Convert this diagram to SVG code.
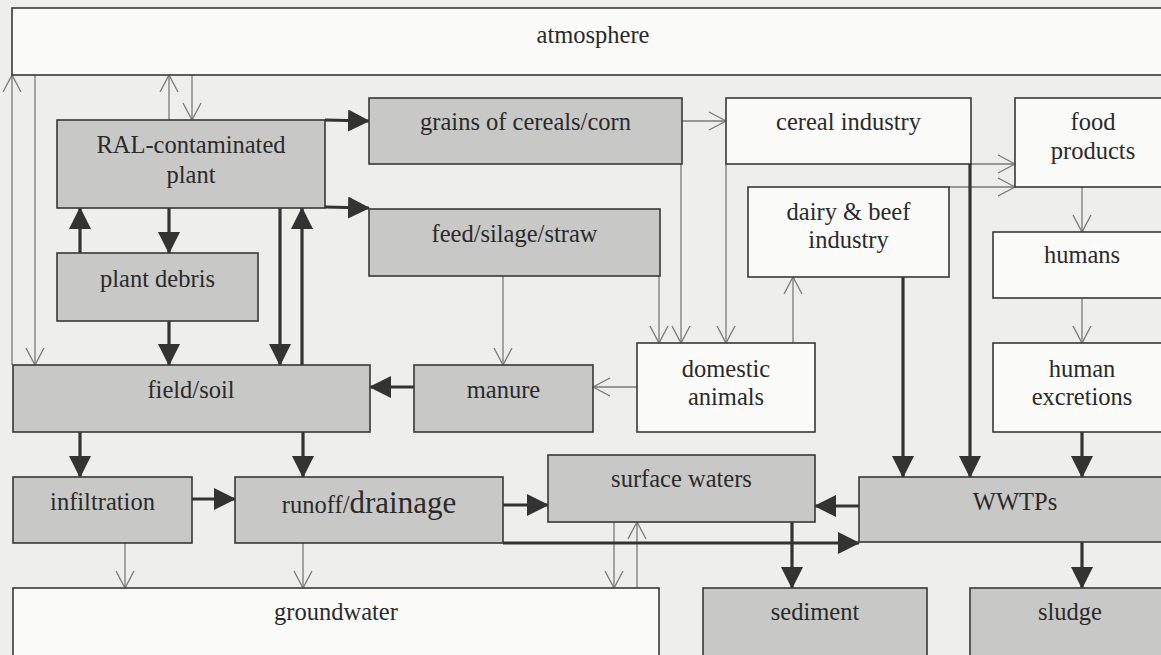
<svg xmlns="http://www.w3.org/2000/svg" width="1161" height="655" viewBox="0 0 1161 655">
<defs>
<style>
.bg{fill:#eeeeec}
.w{fill:#fbfbfa;stroke:#383838;stroke-width:1.6}
.g{fill:#c8c8c6;stroke:#383838;stroke-width:1.6}
.t{font-family:"Liberation Serif","Times New Roman",serif;font-size:24.5px;fill:#2a2a2a;text-anchor:middle}
.thin{stroke:#7a7a7a;stroke-width:1.3;fill:none;marker-end:url(#open)}
.thick{stroke:#333;stroke-width:3.2;fill:none;marker-end:url(#solid)}
</style>
<marker id="solid" markerUnits="userSpaceOnUse" markerWidth="22" markerHeight="22" refX="21" refY="11" orient="auto" viewBox="0 0 22 22">
<path d="M0,0 L22,11 L0,22 Z" fill="#333"/>
</marker>
<marker id="open" markerUnits="userSpaceOnUse" markerWidth="20" markerHeight="22" refX="17" refY="10" orient="auto" viewBox="0 0 20 22" overflow="visible">
<path d="M0,1 L17,10 L0,19" fill="none" stroke="#7a7a7a" stroke-width="1.3"/>
</marker>
</defs>
<rect class="bg" x="0" y="0" width="1161" height="655"/>

<g id="connectors">
<path class="thin" d="M12,365 L12,75"/>
<path class="thin" d="M35,75 L35,365"/>
<path class="thin" d="M169,120 L169,75"/>
<path class="thin" d="M192,75 L192,120"/>
<path class="thin" d="M682,121 L726,121"/>
<path class="thin" d="M681,164 L681,343"/>
<path class="thin" d="M659,276 L659,343"/>
<path class="thin" d="M503,276 L503,365"/>
<path class="thin" d="M726,164 L726,343"/>
<path class="thin" d="M971,164 L1015,164"/>
<path class="thin" d="M949,187 L1015,187"/>
<path class="thin" d="M793,343 L793,277"/>
<path class="thin" d="M1082,187 L1082,232"/>
<path class="thin" d="M1082,298 L1082,343"/>
<path class="thin" d="M637,387 L593,387"/>
<path class="thin" d="M125,543 L125,588"/>
<path class="thin" d="M303,543 L303,588"/>
<path class="thin" d="M614,522 L614,588"/>
<path class="thin" d="M637,588 L637,522"/>
<path class="thick" d="M325,120 L369,121"/>
<path class="thick" d="M325,207 L369,208"/>
<path class="thick" d="M80,253 L80,208"/>
<path class="thick" d="M169,208 L169,253"/>
<path class="thick" d="M169,321 L169,365"/>
<path class="thick" d="M280,208 L280,365"/>
<path class="thick" d="M302,365 L302,208"/>
<path class="thick" d="M414,387 L370,387"/>
<path class="thick" d="M80,432 L80,477"/>
<path class="thick" d="M303,432 L303,477"/>
<path class="thick" d="M192,499 L235,499"/>
<path class="thick" d="M503,505 L548,505"/>
<path class="thick" d="M503,543 L859,543"/>
<path class="thick" d="M859,506 L815,506"/>
<path class="thick" d="M792,522 L792,588"/>
<path class="thick" d="M903,277 L903,477"/>
<path class="thick" d="M970,164 L970,477"/>
<path class="thick" d="M1082,432 L1082,477"/>
<path class="thick" d="M1082,542 L1082,588"/>
</g>

<g id="atmosphere"><rect class="w" x="12" y="8" width="1160" height="67"/><text class="t" x="593" y="43">atmosphere</text></g>
<g id="ral-plant"><rect class="g" x="57" y="120" width="268" height="88"/><text class="t" x="191" y="153">RAL-contaminated</text><text class="t" x="191" y="183">plant</text></g>
<g id="plant-debris"><rect class="g" x="57" y="253" width="201" height="68"/><text class="t" x="157.5" y="287">plant debris</text></g>
<g id="grains"><rect class="g" x="369" y="98" width="313" height="66"/><text class="t" x="525.5" y="130">grains of cereals/corn</text></g>
<g id="feed"><rect class="g" x="369" y="209" width="291" height="67"/><text class="t" x="514.5" y="242">feed/silage/straw</text></g>
<g id="cereal-industry"><rect class="w" x="726" y="98" width="245" height="66"/><text class="t" x="848.5" y="130">cereal industry</text></g>
<g id="food-products"><rect class="w" x="1015" y="98" width="160" height="89"/><text class="t" x="1093" y="130">food</text><text class="t" x="1093" y="159">products</text></g>
<g id="dairy-beef"><rect class="w" x="748" y="187" width="201" height="90"/><text class="t" x="848.5" y="220">dairy &amp; beef</text><text class="t" x="848.5" y="248">industry</text></g>
<g id="humans"><rect class="w" x="993" y="232" width="180" height="66"/><text class="t" x="1082" y="263">humans</text></g>
<g id="human-excretions"><rect class="w" x="993" y="343" width="180" height="89"/><text class="t" x="1082" y="377">human</text><text class="t" x="1082" y="405">excretions</text></g>
<g id="domestic-animals"><rect class="w" x="637" y="343" width="178" height="89"/><text class="t" x="726" y="377">domestic</text><text class="t" x="726" y="405">animals</text></g>
<g id="manure"><rect class="g" x="414" y="365" width="179" height="67"/><text class="t" x="503.5" y="398">manure</text></g>
<g id="field-soil"><rect class="g" x="13" y="365" width="357" height="67"/><text class="t" x="191" y="398">field/soil</text></g>
<g id="infiltration"><rect class="g" x="13" y="477" width="179" height="66"/><text class="t" x="102.5" y="510">infiltration</text></g>
<g id="runoff-drainage"><rect class="g" x="235" y="477" width="268" height="66"/><text class="t" x="369" y="513"><tspan>runoff/</tspan><tspan style="font-size:31px">drainage</tspan></text></g>
<g id="surface-waters"><rect class="g" x="548" y="455" width="267" height="67"/><text class="t" x="681.5" y="487">surface waters</text></g>
<g id="wwtps"><rect class="g" x="859" y="477" width="315" height="65"/><text class="t" x="1015" y="510">WWTPs</text></g>
<g id="groundwater"><rect class="w" x="13" y="588" width="646" height="80"/><text class="t" x="336" y="620">groundwater</text></g>
<g id="sediment"><rect class="g" x="703" y="588" width="224" height="80"/><text class="t" x="815" y="620">sediment</text></g>
<g id="sludge"><rect class="g" x="970" y="588" width="205" height="80"/><text class="t" x="1070" y="620">sludge</text></g>
</svg>
